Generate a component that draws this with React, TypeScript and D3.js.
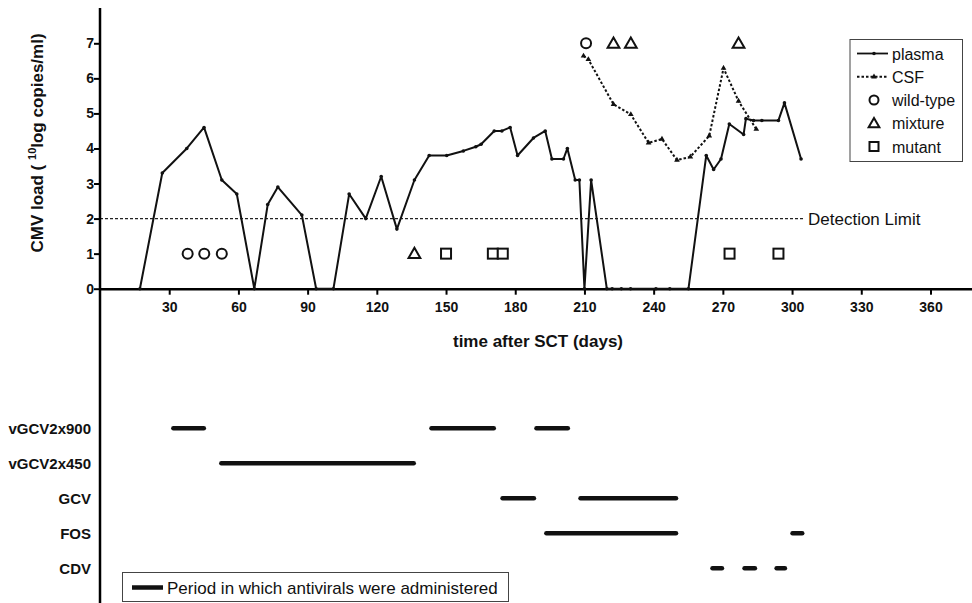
import * as d3 from "d3";
import { useEffect, useRef } from "react";

// plasma viral load (days after SCT, 10log copies/ml)
const plasmaDays = [17.3, 27, 37.6, 45.1, 52.8, 59.3, 66.9, 72.7, 77.1, 87.5, 93.7, 101.2, 108, 115.2, 121.9, 128.7, 136.3, 142.7, 150.3, 157.5, 162.9, 165.2, 170.9, 174.2, 177.8, 181, 187.9, 193, 195.9, 200.9, 202.6, 206, 207.8, 210, 212.9, 219.7, 222, 226, 230, 241, 247, 255.1, 262.8, 266, 269.2, 272.8, 279, 280, 283.3, 286.9, 294.1, 296.7, 303.9];
const plasmaLoad = [0, 3.3, 4.0, 4.6, 3.1, 2.7, 0, 2.4, 2.9, 2.1, 0, 0, 2.7, 2.0, 3.2, 1.7, 3.1, 3.8, 3.8, 3.93, 4.05, 4.12, 4.5, 4.5, 4.6, 3.8, 4.3, 4.5, 3.7, 3.7, 4.0, 3.1, 3.1, 0, 3.1, 0, 0, 0, 0, 0, 0, 0, 3.8, 3.4, 3.7, 4.7, 4.4, 4.85, 4.8, 4.8, 4.8, 5.3, 3.7];

// CSF viral load
const csfDays = [209.6, 211.7, 222.6, 230.1, 237.8, 243.6, 250.1, 255.9, 264.1, 270.3, 276.8, 284.5];
const csfLoad = [6.64, 6.54, 5.26, 4.97, 4.16, 4.27, 3.67, 3.76, 4.36, 6.29, 5.35, 4.55];

// genotype results
const wildTypeDays = [38, 45.2, 52.8, 210.7];
const wildTypeLoad = [1, 1, 1, 7];
const mixtureDays = [136.3, 222.6, 230.1, 276.8];
const mixtureLoad = [1, 7, 7, 7];
const mutantDays = [150, 170.3, 174.6, 272.9, 294.1];
const mutantLoad = [1, 1, 1, 1, 1];

const detectionLimit = 2;

// antiviral treatment periods
const drugs = ["vGCV2x900", "vGCV2x450", "GCV", "FOS", "CDV"];
const periodDrug = ["vGCV2x900", "vGCV2x900", "vGCV2x900", "vGCV2x450", "GCV", "GCV", "FOS", "FOS", "CDV", "CDV", "CDV"];
const periodStart = [31.8, 143.7, 189.2, 52.6, 174.5, 208.3, 193.5, 300.2, 265.5, 279.4, 293.3];
const periodEnd = [45, 170.7, 202.8, 136, 188.1, 249.7, 249.7, 304.4, 269.6, 283.9, 296.9];

const xTicks = [30, 60, 90, 120, 150, 180, 210, 240, 270, 300, 330, 360];
const yTicks = [0, 1, 2, 3, 4, 5, 6, 7];

const App = () => {
  const ref = useRef<SVGSVGElement>(null);

  useEffect(() => {
    const svg = d3.select(ref.current);
    svg.selectAll("*").remove();

    const width = 972;
    const height = 603;
    const font = "'Liberation Sans', Arial, sans-serif";

    svg.attr("width", width).attr("height", height).style("font-family", font);

    const x = d3.scaleLinear().domain([0, 378]).range([100, 972]);
    const y = d3.scaleLinear().domain([0, 7]).range([288.7, 43.3]);
    const row = d3.scalePoint().domain(drugs).range([428.3, 568.3]);

    // detection limit
    svg
      .append("line")
      .attr("x1", x(0))
      .attr("x2", 803)
      .attr("y1", y(detectionLimit))
      .attr("y2", y(detectionLimit))
      .attr("stroke", "#222")
      .attr("stroke-width", 1.4)
      .attr("stroke-dasharray", "3,2");
    svg
      .append("text")
      .attr("x", 808)
      .attr("y", y(detectionLimit) + 6)
      .attr("font-size", 17)
      .attr("fill", "#111")
      .text("Detection Limit");

    // x axis
    const xAxis = svg
      .append("g")
      .attr("transform", `translate(0,${y(0)})`)
      .call(d3.axisBottom(x).tickValues(xTicks).tickSize(6).tickSizeOuter(0));
    xAxis.select(".domain").attr("stroke", "#000").attr("stroke-width", 2.5);
    xAxis.selectAll(".tick line").attr("stroke", "#000").attr("stroke-width", 2);
    xAxis
      .selectAll(".tick text")
      .attr("font-family", font)
      .attr("font-size", 14)
      .attr("font-weight", "bold")
      .attr("fill", "#111")
      .attr("dy", "1.0em");

    // y axis
    const yAxis = svg
      .append("g")
      .attr("transform", `translate(${x(0)},0)`)
      .call(d3.axisLeft(y).tickValues(yTicks).tickFormat(d3.format("d")).tickSize(6).tickSizeOuter(0));
    yAxis.select(".domain").remove();
    yAxis.selectAll(".tick line").attr("stroke", "#000").attr("stroke-width", 2);
    yAxis
      .selectAll(".tick text")
      .attr("font-family", font)
      .attr("font-size", 14)
      .attr("font-weight", "bold")
      .attr("fill", "#111")
      .attr("x", -6);
    svg
      .append("line")
      .attr("x1", x(0))
      .attr("x2", x(0))
      .attr("y1", 8)
      .attr("y2", height)
      .attr("stroke", "#000")
      .attr("stroke-width", 2.5);

    // axis titles
    const yTitle = svg
      .append("text")
      .attr("transform", `translate(43,143) rotate(-90)`)
      .attr("text-anchor", "middle")
      .attr("font-size", 17)
      .attr("font-weight", "bold")
      .attr("fill", "#111");
    yTitle.append("tspan").text("CMV load ( ");
    yTitle.append("tspan").attr("font-size", 11).attr("dy", -7).text("10");
    yTitle.append("tspan").attr("dy", 7).text("log copies/ml)");

    svg
      .append("text")
      .attr("x", 538)
      .attr("y", 347)
      .attr("text-anchor", "middle")
      .attr("font-size", 17)
      .attr("font-weight", "bold")
      .attr("fill", "#111")
      .text("time after SCT (days)");

    // plasma
    const plasma = plasmaDays.map((d, i) => [d, plasmaLoad[i]] as [number, number]);
    const line = d3
      .line<[number, number]>()
      .x((d) => x(d[0]))
      .y((d) => y(d[1]));
    svg
      .append("path")
      .attr("d", line(plasma))
      .attr("fill", "none")
      .attr("stroke", "#111")
      .attr("stroke-width", 2)
      .attr("stroke-linejoin", "round");
    svg
      .append("g")
      .selectAll("circle")
      .data(plasma)
      .join("circle")
      .attr("cx", (d) => x(d[0]))
      .attr("cy", (d) => y(d[1]))
      .attr("r", 1.8)
      .attr("fill", "#111");

    // CSF
    const csf = csfDays.map((d, i) => [d, csfLoad[i]] as [number, number]);
    svg
      .append("path")
      .attr("d", line(csf))
      .attr("fill", "none")
      .attr("stroke", "#111")
      .attr("stroke-width", 2)
      .attr("stroke-dasharray", "2.5,2");
    svg
      .append("g")
      .selectAll("path")
      .data(csf)
      .join("path")
      .attr("transform", (d) => `translate(${x(d[0])},${y(d[1])})`)
      .attr("d", d3.symbol(d3.symbolTriangle, 14)())
      .attr("fill", "#111");

    // genotype markers
    const tri = d3.symbol(d3.symbolTriangle, 60)();
    svg
      .append("g")
      .selectAll("circle")
      .data(wildTypeDays)
      .join("circle")
      .attr("cx", (d) => x(d))
      .attr("cy", (d, i) => y(wildTypeLoad[i]))
      .attr("r", 5)
      .attr("fill", "#fff")
      .attr("stroke", "#111")
      .attr("stroke-width", 2);
    svg
      .append("g")
      .selectAll("path")
      .data(mixtureDays)
      .join("path")
      .attr("transform", (d, i) => `translate(${x(d)},${y(mixtureLoad[i]) + 1})`)
      .attr("d", tri)
      .attr("fill", "#fff")
      .attr("stroke", "#111")
      .attr("stroke-width", 2);
    svg
      .append("g")
      .selectAll("rect")
      .data(mutantDays)
      .join("rect")
      .attr("x", (d) => x(d) - 5)
      .attr("y", (d, i) => y(mutantLoad[i]) - 5)
      .attr("width", 10)
      .attr("height", 10)
      .attr("fill", "#fff")
      .attr("stroke", "#111")
      .attr("stroke-width", 2);

    // legend
    const lg = svg.append("g");
    lg.append("rect")
      .attr("x", 850)
      .attr("y", 39.5)
      .attr("width", 112.5)
      .attr("height", 122)
      .attr("fill", "#fff")
      .attr("stroke", "#444")
      .attr("stroke-width", 1);
    const legendLabels = ["plasma", "CSF", "wild-type", "mixture", "mutant"];
    const ly = d3.scalePoint().domain(legendLabels).range([53.5, 146.5]);
    legendLabels.forEach((label) => {
      lg.append("text")
        .attr("x", 892)
        .attr("y", ly(label)! + 6)
        .attr("font-size", 16)
        .attr("fill", "#111")
        .text(label);
    });
    lg.append("line")
      .attr("x1", 857).attr("x2", 888)
      .attr("y1", ly("plasma")).attr("y2", ly("plasma"))
      .attr("stroke", "#111").attr("stroke-width", 1.8);
    lg.append("circle").attr("cx", 874).attr("cy", ly("plasma")!).attr("r", 1.8).attr("fill", "#111");
    lg.append("line")
      .attr("x1", 857).attr("x2", 888)
      .attr("y1", ly("CSF")).attr("y2", ly("CSF"))
      .attr("stroke", "#111").attr("stroke-width", 1.8).attr("stroke-dasharray", "2.5,2");
    lg.append("path")
      .attr("transform", `translate(874,${ly("CSF")})`)
      .attr("d", d3.symbol(d3.symbolTriangle, 14)())
      .attr("fill", "#111");
    lg.append("circle")
      .attr("cx", 874).attr("cy", ly("wild-type")!).attr("r", 4.5)
      .attr("fill", "#fff").attr("stroke", "#111").attr("stroke-width", 2);
    lg.append("path")
      .attr("transform", `translate(874,${ly("mixture")! + 1})`)
      .attr("d", d3.symbol(d3.symbolTriangle, 50)())
      .attr("fill", "#fff").attr("stroke", "#111").attr("stroke-width", 2);
    lg.append("rect")
      .attr("x", 869.5).attr("y", ly("mutant")! - 4.5).attr("width", 9).attr("height", 9)
      .attr("fill", "#fff").attr("stroke", "#111").attr("stroke-width", 2);

    // treatment rows
    svg
      .append("g")
      .selectAll("text")
      .data(drugs)
      .join("text")
      .attr("x", 91)
      .attr("y", (d) => row(d)! + 5.5)
      .attr("text-anchor", "end")
      .attr("font-size", 15)
      .attr("font-weight", "bold")
      .attr("fill", "#111")
      .text((d) => d);
    svg
      .append("g")
      .selectAll("line")
      .data(periodDrug)
      .join("line")
      .attr("x1", (d, i) => x(periodStart[i]))
      .attr("x2", (d, i) => x(periodEnd[i]))
      .attr("y1", (d) => row(d)!)
      .attr("y2", (d) => row(d)!)
      .attr("stroke", "#111")
      .attr("stroke-width", 4.5)
      .attr("stroke-linecap", "round");

    // treatment legend
    svg
      .append("rect")
      .attr("x", 122.5)
      .attr("y", 572.5)
      .attr("width", 386)
      .attr("height", 29)
      .attr("fill", "#fff")
      .attr("stroke", "#444")
      .attr("stroke-width", 1);
    svg
      .append("line")
      .attr("x1", 132)
      .attr("x2", 163)
      .attr("y1", 587.5)
      .attr("y2", 587.5)
      .attr("stroke", "#111")
      .attr("stroke-width", 4.5);
    svg
      .append("text")
      .attr("x", 167)
      .attr("y", 593.5)
      .attr("font-size", 17)
      .attr("fill", "#111")
      .text("Period in which antivirals were administered");
  }, []);

  return <svg ref={ref} style={{ position: "absolute", left: 0, top: 0 }}></svg>;
};

export default App;
